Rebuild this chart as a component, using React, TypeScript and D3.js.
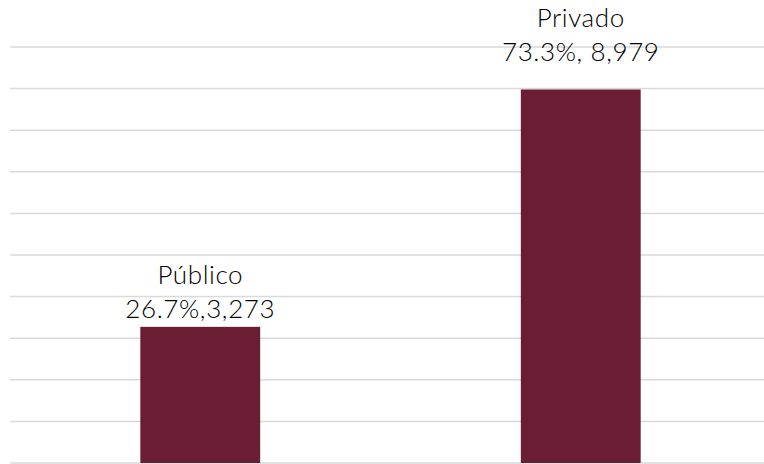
import React from "react";
import * as d3 from "d3";

const categories = ["Público", "Privado"];
const values = [3273, 8979];
const valueLabels = ["26.7%,3,273", "73.3%, 8,979"];
const gridTicks = [0, 1000, 2000, 3000, 4000, 5000, 6000, 7000, 8000, 9000, 10000];

const W = 764;
const H = 464;
// gap (px) between each bar top and its value-label baseline
const labelGaps = [9, 28];

export default function App() {
  const x = d3
    .scaleBand<string>()
    .domain(categories)
    .range([10, 771])
    .paddingInner(0.685)
    .paddingOuter(0.3425);
  const y = d3.scaleLinear().domain([0, 10000]).range([463, 47]);
  const font = "Lato, 'Open Sans', sans-serif";

  return (
    <svg
      width={W}
      height={H}
      style={{ position: "absolute", left: 0, top: 0, background: "#fff" }}
    >
      {gridTicks.map((t) => (
        <line
          key={t}
          x1={10}
          x2={W}
          y1={y(t)}
          y2={y(t)}
          stroke="#d9d9d9"
          strokeWidth={1.5}
        />
      ))}
      {categories.map((c, i) => {
        const bx = x(c)!;
        const bw = x.bandwidth();
        const top = y(values[i]);
        const cx = bx + bw / 2;
        const base = top - labelGaps[i];
        return (
          <g key={c}>
            <rect x={bx} y={top} width={bw} height={y(0) - top} fill="#6a1d33" />
            <text
              x={cx}
              y={base - 34}
              textAnchor="middle"
              fontFamily={font}
              fontWeight={300}
              fontSize={26}
              letterSpacing={0.6}
              fill="#000"
            >
              {c}
            </text>
            <text
              x={cx}
              y={base}
              textAnchor="middle"
              fontFamily={font}
              fontWeight={300}
              fontSize={26}
              letterSpacing={0.6}
              fill="#000"
            >
              {valueLabels[i]}
            </text>
          </g>
        );
      })}
    </svg>
  );
}
